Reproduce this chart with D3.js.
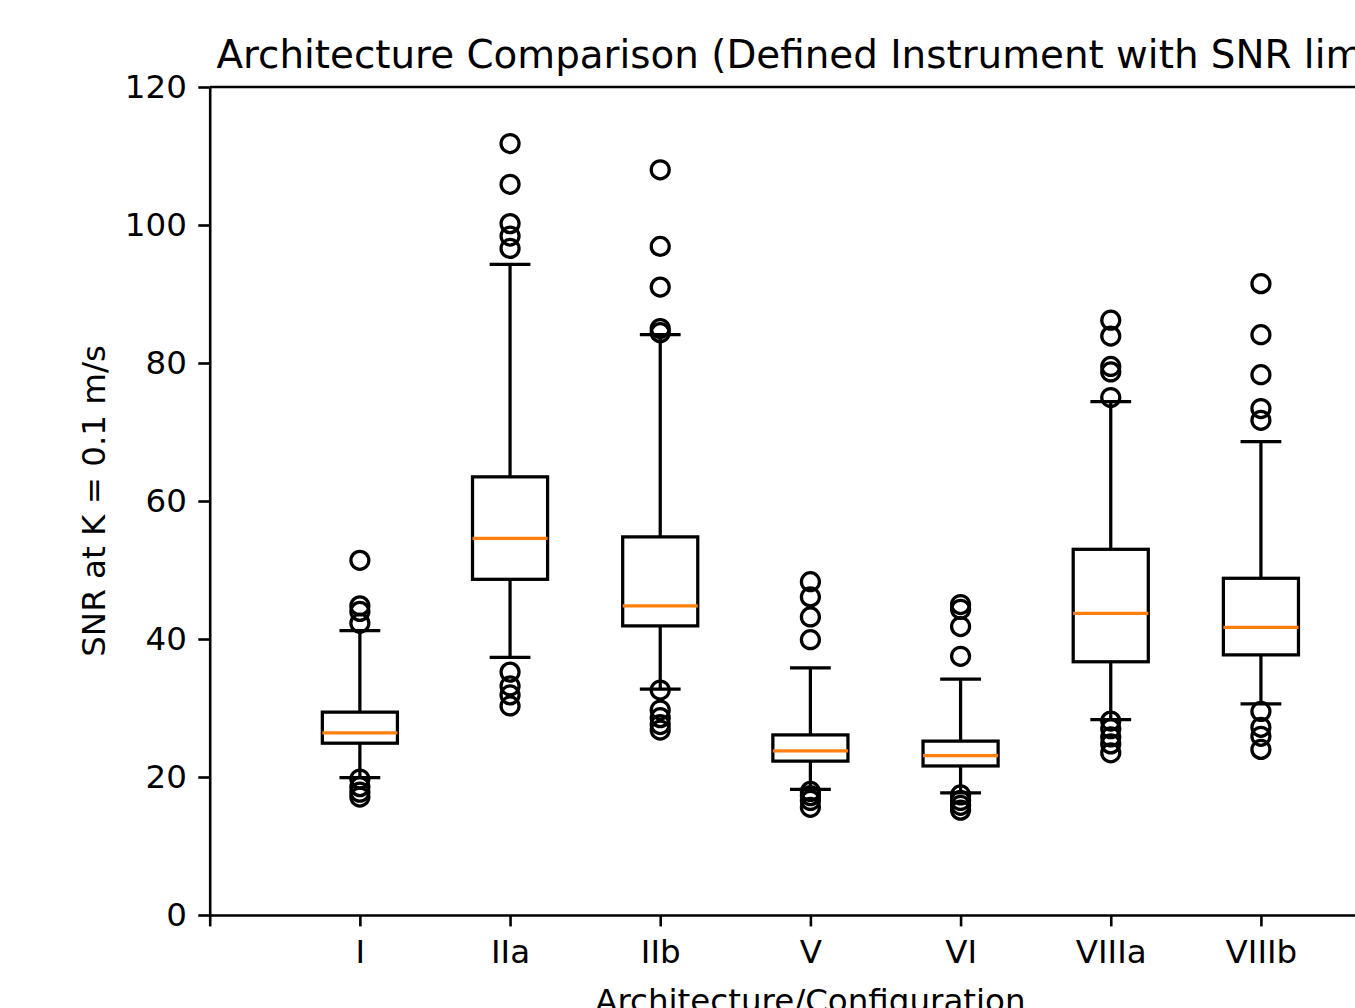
<!DOCTYPE html>
<html lang="en">

<head>
    <meta charset="UTF-8">
    <title>Architecture Comparison</title>
    <style>
        body {
            margin: 0;
            background: #fff;
            overflow: hidden;
        }

        svg {
            display: block;
            font-family: "DejaVu Sans", sans-serif;
        }
    </style>
    <script src="https://cdn.jsdelivr.net/npm/d3@7"></script>
</head>

<body>
    <div id="chart"></div>
    <script>
        // values
        var categories = ["I", "IIa", "IIb", "V", "VI", "VIIIa", "VIIIb"];
        var q1 = [24.9, 48.65, 41.9, 22.3, 21.6, 36.7, 37.7];
        var medians = [26.4, 54.6, 44.8, 23.8, 23.1, 43.7, 41.7];
        var q3 = [29.4, 63.5, 54.8, 26.1, 25.2, 53.0, 48.8];
        var whiskerLow = [19.9, 37.35, 32.75, 18.2, 17.7, 28.3, 30.6];
        var whiskerHigh = [41.2, 94.3, 84.1, 35.8, 34.2, 74.4, 68.6];
        var fliers = [
            [51.4, 44.8, 44.0, 42.3, 19.7, 18.6, 17.8, 17.1],
            [111.8, 105.9, 100.2, 98.4, 96.6, 35.2, 33.2, 31.9, 30.3],
            [108.0, 96.9, 91.0, 85.0, 84.4, 32.6, 29.7, 28.6, 27.6, 26.8],
            [48.3, 46.1, 43.2, 39.9, 17.9, 17.3, 16.6, 15.6],
            [45.0, 44.3, 41.8, 37.5, 17.4, 16.6, 15.9, 15.2],
            [86.2, 83.9, 79.5, 78.7, 75.0, 28.1, 27.0, 25.8, 24.8, 23.5],
            [91.5, 84.1, 78.3, 73.4, 71.7, 29.5, 27.2, 25.9, 24.0]
        ];
        var yTicks = [0, 20, 40, 60, 80, 100, 120];

        var W = 1355, H = 1008;
        var margin = { left: 209.7, top: 87 };
        var plotW = 1201.4, plotH = 828;
        var tickFont = 32.5, titleFont = 38.85;
        var lw = 3.25, axisLw = 2.6, tickLen = 11.4, pad = 11.4;

        var svg = d3.select("#chart").append("svg")
            .attr("width", W)
            .attr("height", H);

        var x = d3.scaleLinear().domain([0, 8]).range([margin.left, margin.left + plotW]);
        var y = d3.scaleLinear().domain([0, 120]).range([margin.top + plotH, margin.top]);

        var data = categories.map(function (c, i) {
            return {
                name: c, pos: i + 1, q1: q1[i], med: medians[i], q3: q3[i],
                lo: whiskerLow[i], hi: whiskerHigh[i], fliers: fliers[i]
            };
        });

        var boxW = 0.5, capW = 0.25;
        var g = svg.append("g");

        var box = g.selectAll(".box")
            .data(data)
            .enter().append("g")
            .attr("class", "box");

        // whiskers
        box.append("line")
            .attr("x1", function (d) { return x(d.pos); })
            .attr("x2", function (d) { return x(d.pos); })
            .attr("y1", function (d) { return y(d.q1); })
            .attr("y2", function (d) { return y(d.lo); });
        box.append("line")
            .attr("x1", function (d) { return x(d.pos); })
            .attr("x2", function (d) { return x(d.pos); })
            .attr("y1", function (d) { return y(d.q3); })
            .attr("y2", function (d) { return y(d.hi); });
        // caps
        ["lo", "hi"].forEach(function (k) {
            box.append("line")
                .attr("x1", function (d) { return x(d.pos - capW / 2); })
                .attr("x2", function (d) { return x(d.pos + capW / 2); })
                .attr("y1", function (d) { return y(d[k]); })
                .attr("y2", function (d) { return y(d[k]); })
                .attr("stroke-linecap", "square");
        });
        box.selectAll("line")
            .attr("stroke", "#000")
            .attr("stroke-width", lw);

        // box
        box.append("rect")
            .attr("x", function (d) { return x(d.pos - boxW / 2); })
            .attr("width", function (d) { return x(d.pos + boxW / 2) - x(d.pos - boxW / 2); })
            .attr("y", function (d) { return y(d.q3); })
            .attr("height", function (d) { return y(d.q1) - y(d.q3); })
            .attr("fill", "none")
            .attr("stroke", "#000")
            .attr("stroke-width", lw);

        // median
        box.append("line")
            .attr("x1", function (d) { return x(d.pos - boxW / 2); })
            .attr("x2", function (d) { return x(d.pos + boxW / 2); })
            .attr("y1", function (d) { return y(d.med); })
            .attr("y2", function (d) { return y(d.med); })
            .attr("stroke", "#ff7f0e")
            .attr("stroke-width", lw);

        // fliers
        box.selectAll("circle")
            .data(function (d) { return d.fliers.map(function (v) { return { pos: d.pos, v: v }; }); })
            .enter().append("circle")
            .attr("cx", function (d) { return x(d.pos); })
            .attr("cy", function (d) { return y(d.v); })
            .attr("r", 9)
            .attr("fill", "none")
            .attr("stroke", "#000")
            .attr("stroke-width", lw);

        // axes
        var xAxis = d3.axisBottom(x)
            .tickValues(d3.range(0, categories.length + 1))
            .tickFormat(function (d) { return d === 0 ? "" : categories[d - 1]; })
            .tickSizeInner(tickLen).tickSizeOuter(0).tickPadding(pad);
        var yAxis = d3.axisLeft(y)
            .tickValues(yTicks)
            .tickSizeInner(tickLen).tickSizeOuter(0).tickPadding(pad);

        var gx = svg.append("g")
            .attr("transform", "translate(0," + y(0) + ")")
            .call(xAxis);
        var gy = svg.append("g")
            .attr("transform", "translate(" + x(0) + ",0)")
            .call(yAxis);

        [gx, gy].forEach(function (a) {
            a.select(".domain").attr("stroke", "#000").attr("stroke-width", axisLw);
            a.selectAll(".tick line").attr("stroke", "#000").attr("stroke-width", axisLw);
            a.selectAll(".tick text")
                .attr("fill", "#000")
                .style("font-size", tickFont + "px")
                .style("font-family", "DejaVu Sans");
        });
        gx.selectAll(".tick text").attr("dy", "0.76em");

        // top and right spines (the right one falls outside the picture)
        svg.append("line")
            .attr("x1", x(0)).attr("x2", x(8))
            .attr("y1", y(120)).attr("y2", y(120))
            .attr("stroke", "#000").attr("stroke-width", axisLw);
        svg.append("line")
            .attr("x1", x(8)).attr("x2", x(8))
            .attr("y1", y(120)).attr("y2", y(0))
            .attr("stroke", "#000").attr("stroke-width", axisLw);

        // title and labels
        svg.append("text")
            .attr("x", (x(0) + x(8)) / 2)
            .attr("y", y(120) - 19)
            .attr("text-anchor", "middle")
            .style("font-size", titleFont + "px")
            .text("Architecture Comparison (Defined Instrument with SNR limit)");

        svg.append("text")
            .attr("x", (x(0) + x(8)) / 2)
            .attr("y", 1012)
            .attr("text-anchor", "middle")
            .style("font-size", tickFont + "px")
            .text("Architecture/Configuration");

        svg.append("text")
            .attr("transform", "translate(105," + (y(0) + y(120)) / 2 + ") rotate(-90)")
            .attr("text-anchor", "middle")
            .style("font-size", tickFont + "px")
            .text("SNR at K = 0.1 m/s");
    </script>
</body>

</html>
